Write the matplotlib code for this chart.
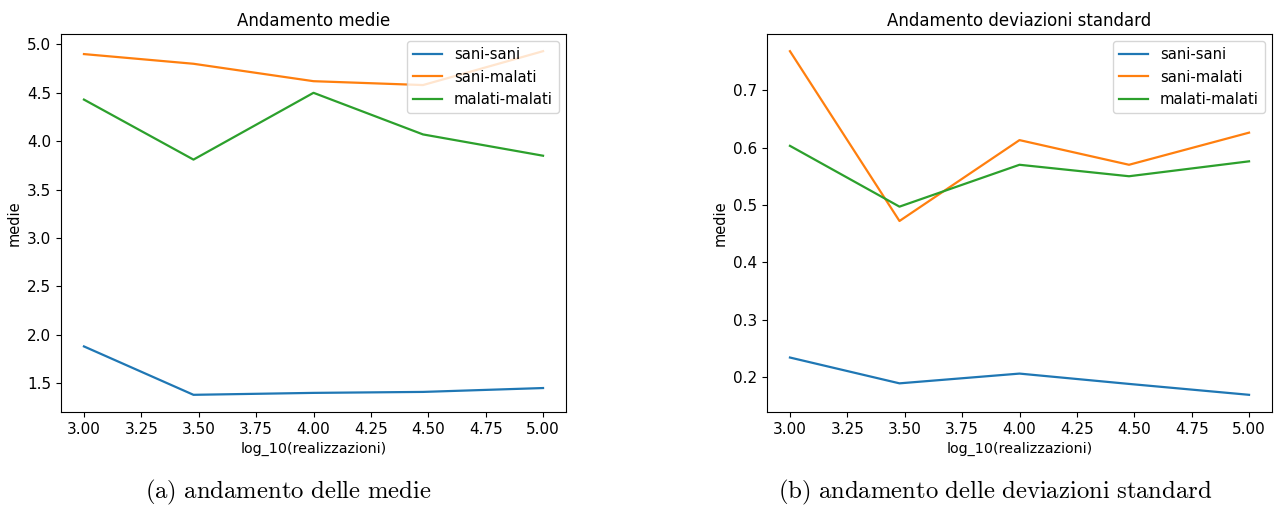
import numpy as np
import matplotlib
matplotlib.use("Agg")
import matplotlib.pyplot as plt

# realizzazioni: 1e3, 3e3, 1e4, 3e4, 1e5
realizzazioni = [1000, 3000, 10000, 30000, 100000]
labels = ['sani-sani', 'sani-malati', 'malati-malati']

medie_sani_sani = [1.88, 1.38, 1.40, 1.41, 1.45]
medie_sani_malati = [4.90, 4.80, 4.62, 4.58, 4.93]
medie_malati_malati = [4.43, 3.81, 4.50, 4.07, 3.85]

std_sani_sani = [0.234, 0.189, 0.206, 0.188, 0.169]
std_sani_malati = [0.768, 0.472, 0.613, 0.570, 0.626]
std_malati_malati = [0.603, 0.497, 0.570, 0.550, 0.576]

captions = [r'$\mathrm{(a)\ andamento\ delle\ medie}$',
            r'$\mathrm{(b)\ andamento\ delle\ deviazioni\ standard}$']

plt.rcParams['mathtext.fontset'] = 'cm'
x = np.log10(realizzazioni)

fig = plt.figure(figsize=(12.79, 5.09), dpi=100)
ax1 = fig.add_axes([61 / 1279, 1 - 412 / 509, (566 - 61) / 1279, (412 - 34) / 509])
ax2 = fig.add_axes([767 / 1279, 1 - 412 / 509, (1272 - 767) / 1279, (412 - 34) / 509])

panels = [
    (ax1, [medie_sani_sani, medie_sani_malati, medie_malati_malati], 'Andamento medie'),
    (ax2, [std_sani_sani, std_sani_malati, std_malati_malati], 'Andamento deviazioni standard'),
]

for ax, series, title in panels:
    for vals, lab in zip(series, labels):
        ax.plot(x, vals, label=lab, linewidth=1.6)
    ax.set_title(title, fontsize=12)
    ax.set_xlabel('log_10(realizzazioni)', fontsize=10.3)
    ax.set_ylabel('medie', fontsize=10.5)
    ax.tick_params(labelsize=11)
    ax.legend(loc='upper right', fontsize=10.6)

fig.text(288 / 1279, 1 - 498 / 509, captions[0], fontsize=17.8, ha='center', va='baseline')
fig.text(995 / 1279, 1 - 498 / 509, captions[1], fontsize=17.8, ha='center', va='baseline')

fig.savefig('out.png', dpi=100)
